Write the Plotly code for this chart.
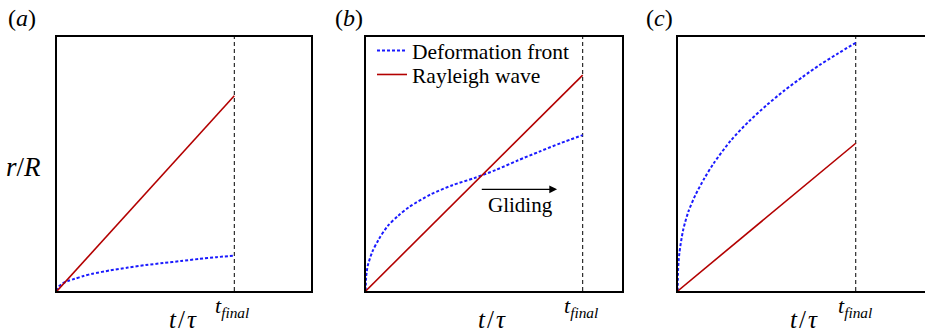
import plotly.graph_objects as go

# ---- data (normalised: t / t_final, r / R on [0, 1]) ----
T_FINAL = 1.0
t_front = [0, 0.002, 0.005, 0.01, 0.03, 0.06, 0.1, 0.15, 0.2, 0.3, 0.4, 0.5, 0.6, 0.7, 0.8, 0.9, 1.0]
front_a = [0, 0.008, 0.013, 0.018, 0.029, 0.039, 0.048, 0.059, 0.068, 0.081, 0.092, 0.102, 0.110, 0.118, 0.126, 0.133, 0.139]
front_b = [0, 0.054, 0.077, 0.101, 0.153, 0.203, 0.254, 0.296, 0.330, 0.380, 0.416, 0.444, 0.476, 0.513, 0.548, 0.582, 0.613]
front_c = [0, 0.081, 0.117, 0.152, 0.238, 0.312, 0.378, 0.443, 0.500, 0.593, 0.667, 0.731, 0.789, 0.841, 0.890, 0.934, 0.976]

t_rayleigh = [0, 1.0]
rayleigh_a = [0, 0.768]
rayleigh_b = [0, 0.849]
rayleigh_c = [0, 0.581]

panel_labels = ["(<i>a</i>)", "(<i>b</i>)", "(<i>c</i>)"]
legend_names = ["Deformation front", "Rayleigh wave"]

# ---- styling ----
W, H = 925, 336
SERIF = "Liberation Serif"
BLUE = "#1a1aff"
RED = "#b30000"

def px(x):
    return x / W

def py(y):
    return 1 - y / H

y_dom = [py(291), py(36.7)]
x_doms = [[px(57), px(311)], [px(365.7), px(621.7)], [px(677.7), 1.0]]
x_max = [1.4326, 1.1797, 1.389]

fig = go.Figure()

fronts = [front_a, front_b, front_c]
rays = [rayleigh_a, rayleigh_b, rayleigh_c]

for i in range(3):
    xa = "x" if i == 0 else f"x{i+1}"
    ya = "y" if i == 0 else f"y{i+1}"
    # vertical marker at t_final
    fig.add_trace(go.Scatter(x=[T_FINAL, T_FINAL], y=[0, 1], mode="lines",
                             line=dict(color="black", width=1, dash="4px,3px"),
                             xaxis=xa, yaxis=ya, showlegend=False, hoverinfo="skip"))
    fig.add_trace(go.Scatter(x=t_front, y=fronts[i], mode="lines",
                             line=dict(color=BLUE, width=2, dash="3px,2px", shape="spline", smoothing=0.8),
                             xaxis=xa, yaxis=ya, name=legend_names[0],
                             showlegend=(i == 1), legend="legend"))
    fig.add_trace(go.Scatter(x=t_rayleigh, y=rays[i], mode="lines",
                             line=dict(color=RED, width=1.6),
                             xaxis=xa, yaxis=ya, name=legend_names[1],
                             showlegend=(i == 1), legend="legend2"))

axis_common = dict(showgrid=False, zeroline=False, showticklabels=False, ticks="",
                   showline=True, linecolor="black", linewidth=1.5)

layout = dict(
    width=W, height=H, margin=dict(l=0, r=0, t=0, b=0),
    paper_bgcolor="white", plot_bgcolor="white",
    font=dict(family=SERIF, color="black"),
)
for i in range(3):
    sx = "" if i == 0 else str(i + 1)
    layout[f"xaxis{sx}"] = dict(axis_common, domain=x_doms[i], range=[0, x_max[i]],
                                anchor=f"y{sx}", mirror=True)
    layout[f"yaxis{sx}"] = dict(axis_common, domain=y_dom, range=[0, 1],
                                anchor=f"x{sx}", mirror=(i != 2))

legend_style = dict(xanchor="left", yanchor="middle", bgcolor="rgba(0,0,0,0)",
                    borderwidth=0, font=dict(family=SERIF, size=21.5),
                    itemwidth=30)
layout["legend"] = dict(legend_style, x=px(372), y=py(50.5))
layout["legend2"] = dict(legend_style, x=px(372), y=py(74.5))

fig.update_layout(**layout)

# panel labels
label_x = [22, 349, 659]
for i in range(3):
    fig.add_annotation(text=panel_labels[i], x=px(label_x[i]), y=py(18), xref="paper", yref="paper",
                       showarrow=False, font=dict(family=SERIF, size=24), xanchor="center", yanchor="middle")

# axis titles
fig.add_annotation(text="<i>r</i>/<i>R</i>", x=px(23), y=py(167), xref="paper", yref="paper",
                   showarrow=False, font=dict(family=SERIF, size=27), xanchor="center", yanchor="middle")
xlab_x = [183, 492, 804]
tf_x = [232, 581, 855]
for i in range(3):
    fig.add_annotation(text="<i>t</i>\u200a/\u200a<i>τ</i>", x=px(xlab_x[i]), y=py(319), xref="paper",
                       yref="paper", showarrow=False, font=dict(family=SERIF, size=25),
                       xanchor="center", yanchor="middle")
    fig.add_annotation(text="<i>t</i><sub><i>final</i></sub>", x=px(tf_x[i]), y=py(307), xref="paper",
                       yref="paper", showarrow=False, font=dict(family=SERIF, size=22),
                       xanchor="center", yanchor="middle")

# gliding arrow in panel (b)
fig.add_annotation(x=0.882, y=0.40, ax=0.528, ay=0.40, xref="x2", yref="y2", axref="x2", ayref="y2",
                   text="", showarrow=True, arrowhead=2, arrowsize=1.2, arrowwidth=1.3, arrowcolor="black")
fig.add_annotation(text="Gliding", x=px(520.5), y=py(205), xref="paper", yref="paper", showarrow=False,
                   font=dict(family=SERIF, size=21), xanchor="center", yanchor="middle")

fig.write_html("out.html")
